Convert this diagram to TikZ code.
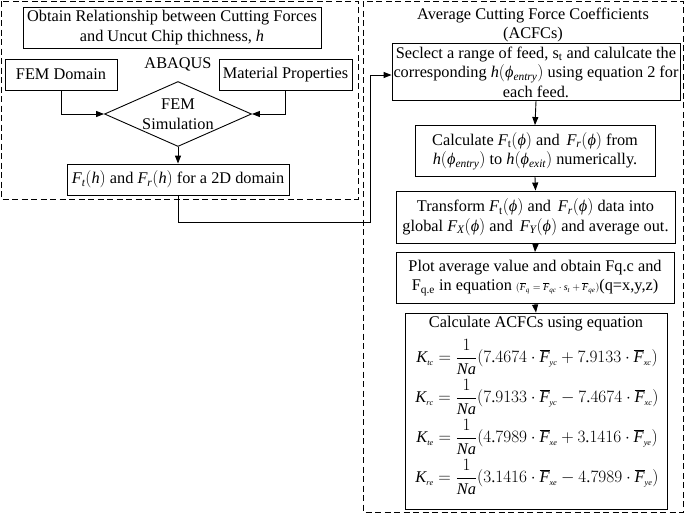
\documentclass[tikz,border=0pt]{standalone}
\usepackage{fontspec}
\setmainfont{Liberation Serif}
\DeclareSymbolFont{letters}{TU}{\rmdefault}{m}{it}
\DeclareSymbolFont{operators}{TU}{\rmdefault}{m}{n}
\usetikzlibrary{arrows.meta,shapes.geometric}
\newcommand\fs{\fontsize{16.3}{19.5}\selectfont}
\newcommand\eqfs{\fontsize{16.4}{18}\selectfont}
\newcommand\smalleq{\fontsize{10}{12}\selectfont}
\newcommand\tinysub[1]{_{\scriptscriptstyle #1}}
\AtBeginDocument{\Umathchardef\phi="7 \symletters "3D5 \mathcode`.="002E \mathcode`,="612C }
\begin{document}
\begin{tikzpicture}[x=1pt,y=-1pt,
  box/.style={draw, line width=0.9pt, align=center, inner sep=0pt, font=\fs},
  grp/.style={draw, dash pattern=on 6pt off 3.5pt, line width=0.9pt},
  arr/.style={-{Triangle[length=8pt,width=6pt]}, line width=0.9pt},
  lbl/.style={font=\fs, align=center, inner sep=0pt},
  eq/.style={font=\eqfs, inner sep=0pt}]
\useasboundingbox (0,0) rectangle (685,517);
% group frames
\draw[grp] (1,1) rectangle (358,199);
\draw[grp] (363.5,1) rectangle (683.5,512);
% left group
\node[box, minimum width=298pt, minimum height=41pt] (obt) at (172,27.5)
  {Obtain Relationship between Cutting Forces\\and Uncut Chip thichness, $h$};
\node[box, minimum width=112pt, minimum height=31pt] (dom) at (61,74.5) {FEM Domain};
\node[box, minimum width=133pt, minimum height=31pt] (mat) at (285.5,74.5) {Material Properties};
\node[lbl] (abq) at (178,64) {ABAQUS};
\node[draw, diamond, aspect=2.26, inner sep=0pt, minimum width=147pt, minimum height=65pt,
  line width=0.9pt, align=center, font=\fs] (sim) at (178,114) {FEM\\Simulation};
\node[box, minimum width=222pt, minimum height=31pt] (res) at (178,179.5)
  {$F_t(h)$ and $F_r(h)$ for a 2D domain};
\draw[arr] (dom.south) |- (sim.west);
\draw[arr] (mat.south) |- (sim.east);
\draw[arr] (sim.south) -- (res.north);
% right group
\node[lbl] (acfc) at (533,25) {Average Cutting Force Coefficients\\(ACFCs)};
\node[box, minimum width=288pt, minimum height=57pt] (s1) at (536,72)
  {Seclect a range of feed, s\textsubscript{t} and calulcate the\\corresponding $h(\phi_{entry})$ using equation 2 for\\each feed.};
\node[box, minimum width=240pt, minimum height=51pt] (s2) at (535,151)
  {Calculate $F_{\mathrm{t}}(\phi)$ and\, $F_r(\phi)$ from\\$h(\phi_{entry})$ to $h(\phi_{exit})$ numerically.};
\node[box, minimum width=279pt, minimum height=52pt] (s3) at (535.5,217)
  {Transform $F_{\mathrm{t}}(\phi)$ and\, $F_r(\phi)$ data into\\global $F_X(\phi)$ and\, $F_Y(\phi)$ and average out.};
\node[box, minimum width=278pt, minimum height=51pt] (s4) at (535,278)
  {Plot average value and obtain Fq.c and\\F\textsubscript{q.e} in equation {\smalleq$(\overline{F}_q=\overline{F}_{qc}\cdot s_t+\overline{F}_{qe})$}(q=x,y,z)};
\node[box, minimum width=262pt, minimum height=196pt] (s5) at (536,411) {};
\node[lbl] (s5t) at (536,324) {Calculate ACFCs using equation};
\node[eq] (e1) at (537,357) {$\displaystyle K\tinysub{tc}=\frac{1}{Na}(7.4674\cdot\overline{F}\tinysub{yc}+7.9133\cdot\overline{F}\tinysub{xc})$};
\node[eq] (e2) at (537,397) {$\displaystyle K\tinysub{rc}=\frac{1}{Na}(7.9133\cdot\overline{F}\tinysub{yc}-7.4674\cdot\overline{F}\tinysub{xc})$};
\node[eq] (e3) at (537,437) {$\displaystyle K\tinysub{te}=\frac{1}{Na}(4.7989\cdot\overline{F}\tinysub{xe}+3.1416\cdot\overline{F}\tinysub{ye})$};
\node[eq] (e4) at (537,477) {$\displaystyle K\tinysub{re}=\frac{1}{Na}(3.1416\cdot\overline{F}\tinysub{xe}-4.7989\cdot\overline{F}\tinysub{ye})$};
\draw[arr] (s1.south) -- (s2.north);
\draw[arr] (s2.south) -- (s3.north);
\draw[arr] (s3.south) -- (s4.north);
\draw[arr] (s4.south) -- (s5.north);
% connector between groups
\coordinate (c2) at (370,222);
\coordinate (c3) at (370,75);
\draw[arr] (res.south) |- (c2) -- (c3) -- (c3 -| s1.west);
\end{tikzpicture}
\end{document}
